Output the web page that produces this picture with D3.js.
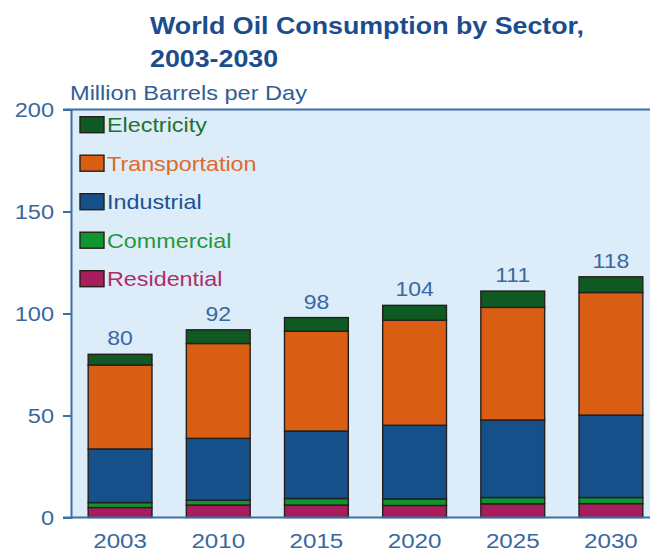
<!DOCTYPE html>
<html>
<head>
<meta charset="utf-8">
<script src="https://cdn.jsdelivr.net/npm/d3@7"></script>
<style>
  html, body { margin: 0; padding: 0; background: #ffffff; }
  svg { display: block; }
  text { font-family: "Liberation Sans", Arial, Helvetica, sans-serif; }
</style>
</head>
<body>
<svg id="chart" width="650" height="553"></svg>
<script>
// World oil consumption by sector, million barrels per day
const years = ["2003", "2010", "2015", "2020", "2025", "2030"];
const sectors = ["Residential", "Commercial", "Industrial", "Transportation", "Electricity"];
const residential    = [4.9, 6.1, 6.1, 5.9, 6.7, 6.8];
const commercial     = [2.4, 2.4, 3.2, 3.2, 3.1, 3.0];
const industrial     = [26.3, 30.3, 33.1, 36.1, 38.0, 40.4];
const transportation = [41.1, 46.5, 48.9, 51.5, 55.2, 60.1];
const electricity    = [5.3, 6.7, 6.7, 7.3, 8.0, 7.7];
const yTicks = [0, 50, 100, 150, 200];

const sectorColors = {
  Residential: "#a81d5e",
  Commercial: "#10962f",
  Industrial: "#16508a",
  Transportation: "#d95e14",
  Electricity: "#0e5a22"
};
const legendTextColors = {
  Residential: "#b02c6c",
  Commercial: "#24983c",
  Industrial: "#1c5194",
  Transportation: "#e0692a",
  Electricity: "#22702e"
};

const rows = years.map((yr, i) => ({
  year: yr,
  Residential: residential[i],
  Commercial: commercial[i],
  Industrial: industrial[i],
  Transportation: transportation[i],
  Electricity: electricity[i]
}));

const svg = d3.select("#chart");
const plot = { left: 71, right: 660, top: 109.5, bottom: 517.5 };
const axisColor = "#3d6fa6";
const labelColor = "#3a68a0";
const SX = 1.15; // horizontal stretch of the lettering

function put(sel, x, y) {
  return sel.attr("transform", `translate(${x},${y}) scale(${SX},1)`);
}

const x = d3.scaleBand().domain(years).range([plot.left, plot.right])
  .paddingInner(0.35).paddingOuter(0.175);
const y = d3.scaleLinear().domain([0, 200]).range([plot.bottom, plot.top]);

// plot background
svg.append("rect")
  .attr("x", plot.left).attr("y", plot.top)
  .attr("width", plot.right - plot.left).attr("height", plot.bottom - plot.top)
  .attr("fill", "#dcedf9");

// stacked bars
const stack = d3.stack().keys(sectors)(rows);
svg.append("g").selectAll("g").data(stack).join("g")
  .attr("fill", d => sectorColors[d.key])
  .selectAll("rect").data(d => d).join("rect")
  .attr("x", d => x(d.data.year))
  .attr("width", x.bandwidth())
  .attr("y", d => y(d[1]))
  .attr("height", d => y(d[0]) - y(d[1]))
  .attr("stroke", "#231f1c")
  .attr("stroke-width", 1.4);

// total labels above bars
const totals = rows.map(r => ({ year: r.year, total: d3.sum(sectors, k => r[k]) }));
svg.append("g").selectAll("text").data(totals).join("text")
  .each(function(d) { put(d3.select(this), x(d.year) + x.bandwidth() / 2, y(d.total) - 9); })
  .attr("text-anchor", "middle")
  .attr("font-size", 20)
  .attr("fill", labelColor)
  .text(d => d3.format(".0f")(d.total));

// y axis
const yAxis = svg.append("g").attr("transform", `translate(${plot.left},0)`)
  .call(d3.axisLeft(y).tickValues(yTicks).tickSize(8).tickPadding(8));
yAxis.select(".domain").attr("stroke", axisColor).attr("stroke-width", 2);
yAxis.selectAll(".tick line").attr("stroke", axisColor).attr("stroke-width", 2);
yAxis.selectAll(".tick text")
  .attr("x", null).attr("dy", null)
  .attr("font-size", 20.5).attr("fill", labelColor)
  .attr("font-family", "Liberation Sans, Arial, sans-serif")
  .each(function() { put(d3.select(this), -17, 7); });

// top and bottom frame lines
svg.append("line")
  .attr("x1", plot.left - 8).attr("x2", plot.right)
  .attr("y1", y(200)).attr("y2", y(200))
  .attr("stroke", axisColor).attr("stroke-width", 2);
svg.append("line")
  .attr("x1", plot.left - 8).attr("x2", plot.right)
  .attr("y1", y(0)).attr("y2", y(0))
  .attr("stroke", axisColor).attr("stroke-width", 2);

// x axis labels
const xAxis = svg.append("g").attr("transform", `translate(0,${plot.bottom})`)
  .call(d3.axisBottom(x).tickSize(0).tickPadding(0));
xAxis.select(".domain").remove();
xAxis.selectAll(".tick text")
  .attr("y", null).attr("dy", null)
  .attr("font-size", 21).attr("fill", labelColor)
  .attr("font-family", "Liberation Sans, Arial, sans-serif")
  .each(function() { put(d3.select(this), 0, 30.5); });

// legend
const legendOrder = ["Electricity", "Transportation", "Industrial", "Commercial", "Residential"];
const legend = svg.append("g").selectAll("g").data(legendOrder).join("g")
  .attr("transform", (d, i) => `translate(80,${124.7 + i * 38.5})`);
legend.append("rect")
  .attr("x", 0).attr("y", -8).attr("width", 24).attr("height", 16)
  .attr("fill", d => sectorColors[d])
  .attr("stroke", "#231f1c").attr("stroke-width", 1.4);
legend.append("text")
  .each(function() { put(d3.select(this), 27, 7.5); })
  .attr("font-size", 20.3)
  .attr("fill", d => legendTextColors[d])
  .text(d => d);

// unit label
put(svg.append("text"), 70, 100)
  .attr("font-size", 20.5).attr("fill", "#2f5e96")
  .text("Million Barrels per Day");

// title
const title = svg.append("text").attr("font-size", 23.3).attr("font-weight", "bold").attr("fill", "#1b4d8c");
put(title, 150, 0);
title.append("tspan").attr("x", 0).attr("y", 34.5).text("World Oil Consumption by Sector,");
title.append("tspan").attr("x", 0).attr("y", 67.5).text("2003-2030");
</script>
</body>
</html>
